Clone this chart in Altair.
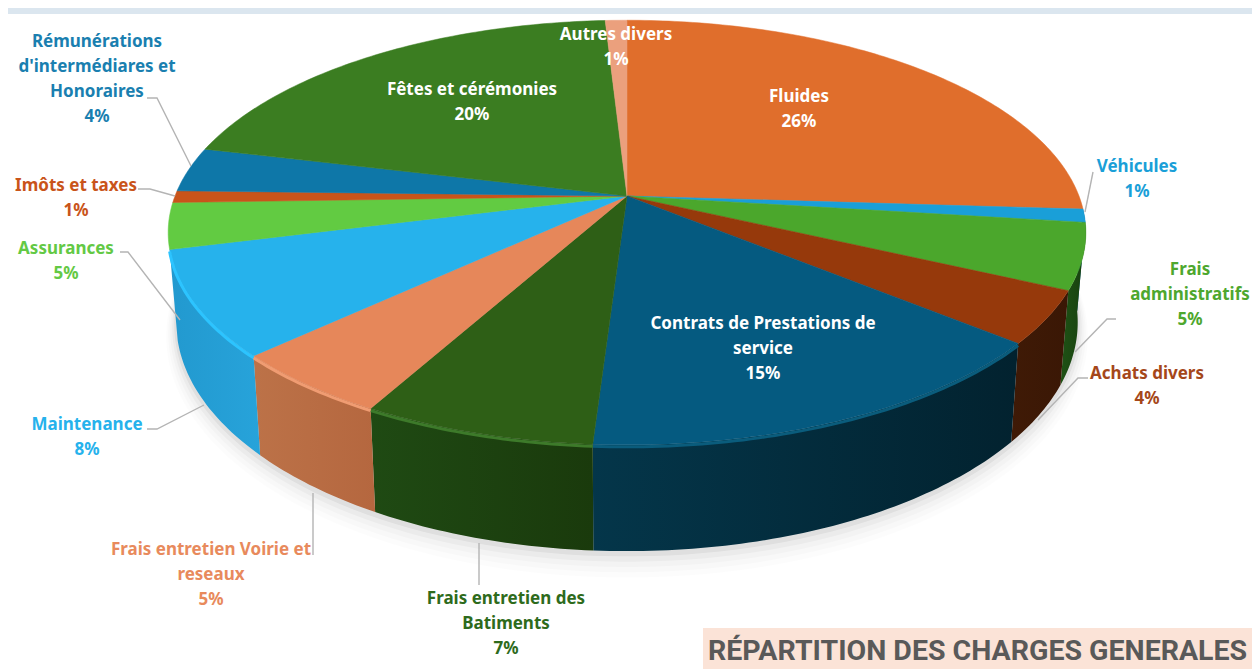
import numpy as np
import pandas as pd
import altair as alt

# ---- data ----
names = ["Fluides", "Véhicules", "Frais administratifs", "Achats divers",
         "Contrats de Prestations de service", "Frais entretien des Batiments",
         "Frais entretien Voirie et reseaux", "Maintenance", "Assurances",
         "Imôts et taxes", "Rémunérations d'intermédiares et Honoraires",
         "Fêtes et cérémonies", "Autres divers"]
shares = [26, 1, 5, 4, 15, 7, 5, 8, 3.5, 0.9, 3.4, 20.3, 0.9]
pct_labels = ["26%", "1%", "5%", "4%", "15%", "7%", "5%", "8%", "5%", "1%", "4%", "20%", "1%"]
title_text = "RÉPARTITION DES CHARGES GENERALES"

# ---- style ----
top_colors = ["#e06e2c", "#1a9fd8", "#4ba72c", "#96390b", "#055a80", "#2e5f16", "#e6875a",
              "#26b2ec", "#62cb42", "#c9541a", "#0e77a8", "#3b7d21", "#eba07d"]
label_colors = ["#ffffff", "#1a9fd8", "#4ea72e", "#a5471a", "#ffffff", "#2e6b1c", "#e88a5c",
                "#26b2ec", "#63c945", "#c9541a", "#1a7fb0", "#ffffff", "#ffffff"]
wall_fill = {
    1: ("#0d5f80", "#0d5f80"), 2: ("#1f5215", "#17400f"), 3: ("#3f1a06", "#3a1705"),
    4: ("#04364a", "#02222f"), 5: ("#1f4a13", "#1a3a0c"), 6: ("#bc7248", "#b5673f"),
    7: ("#2299cf", "#27a3da"),
}
rim_colors = {4: "#0a5c7c", 5: "#3d7a2a", 6: "#f09c72", 7: "#2cc4ff"}
label_lines = [
    (["Fluides", "26%"], 799, 96),
    (["Véhicules", "1%"], 1137, 166),
    (["Frais", "administratifs", "5%"], 1190, 269),
    (["Achats divers", "4%"], 1147, 373),
    (["Contrats de Prestations de", "service", "15%"], 763, 323),
    (["Frais entretien des", "Batiments", "7%"], 506, 598),
    (["Frais entretien Voirie et", "reseaux", "5%"], 211, 549),
    (["Maintenance", "8%"], 87, 424),
    (["Assurances", "5%"], 66, 248),
    (["Imôts et taxes", "1%"], 76, 185),
    (["Rémunérations", "d'intermédiares et", "Honoraires", "4%"], 97, 41),
    (["Fêtes et cérémonies", "20%"], 472, 89),
    (["Autres divers", "1%"], 616, 34),
]
leaders = [
    [(1093, 172), (1085, 212)],
    [(1116, 319), (1107, 319), (1075, 352)],
    [(1088, 378), (1078, 378), (1038, 420)],
    [(479, 543), (479, 585)],
    [(313, 493), (313, 555)],
    [(147, 429), (157, 429), (204, 405)],
    [(120, 252), (128, 252), (180, 320)],
    [(138, 189), (150, 189), (175, 196)],
    [(147, 98), (157, 98), (191, 166)],
]
CX, CY_TOP, SX_TOP, SY_TOP, K = 627, 196, 452, 206, 0.172
CY_BOT, SX_BOT, SY_BOT = 283, 444, 222
LABEL_DY = 1

X = alt.X("x:Q", scale=alt.Scale(domain=[8, 1252], nice=False, zero=False), axis=None)
Y = alt.Y("y:Q", scale=alt.Scale(domain=[669, 8], nice=False, zero=False), axis=None)


def arc(a0, a1, cy, sx, sy, n=None):
    n = n or max(3, int(abs(a1 - a0) * 4) + 2)
    ang = np.linspace(a0, a1, n) / 100 * 2 * np.pi
    px, py = np.sin(ang), -np.cos(ang)
    den = 1 - K * py
    return CX + sx * px / den, cy + sy * py / den


def poly(xs, ys, **mark):
    df = pd.DataFrame({"x": xs, "y": ys, "i": np.arange(len(xs))})
    return alt.Chart(df).mark_line(clip=True, **mark).encode(x=X, y=Y, order="i:Q")


def rect(x0, x1, y0, y1, color):
    return poly([x0, x1, x1, x0, x0], [y0, y0, y1, y1, y0], fill=color, strokeWidth=0)


layers = [rect(8, 1252, 8, 14, "#dbe6ef")]

# soft shadow below the pie
for r, op in [(20, 0.012), (16, 0.016), (12, 0.02), (8, 0.03), (4, 0.05)]:
    xs, ys = arc(0, 100, CY_BOT + r * 0.6, SX_BOT + r * 0.5, SY_BOT + r * 0.6, n=200)
    layers.append(poly(xs, ys, fill="#000000", fillOpacity=op, strokeWidth=0))

# side walls
cum = np.concatenate([[0], np.cumsum(shares)])
for i, (c0, c1) in wall_fill.items():
    a0, a1 = cum[i], cum[i + 1]
    xt, yt = arc(a0, a1, CY_TOP, SX_TOP, SY_TOP)
    xb, yb = arc(a1, a0, CY_BOT, SX_BOT, SY_BOT)
    grad = alt.Gradient(gradient="linear", x1=0, x2=1, y1=0, y2=0,
                        stops=[alt.GradientStop(color=c0, offset=0),
                               alt.GradientStop(color=c1, offset=1)])
    layers.append(poly(np.r_[xt, xb, xt[0]], np.r_[yt, yb, yt[0]],
                       fill=grad, strokeWidth=0))

# top faces
for i, col in enumerate(top_colors):
    xs, ys = arc(cum[i], cum[i + 1], CY_TOP, SX_TOP, SY_TOP)
    layers.append(poly(np.r_[CX, xs, CX], np.r_[CY_TOP, ys, CY_TOP],
                       fill=col, stroke=col, strokeWidth=0.5))

# bevel on the front rim
for i, col in rim_colors.items():
    xs, ys = arc(cum[i], cum[i + 1], CY_TOP, SX_TOP, SY_TOP)
    layers.append(poly(xs, ys + 2, stroke=col, strokeWidth=3))

# leader lines
for pts in leaders:
    layers.append(poly([p[0] for p in pts], [p[1] for p in pts],
                       stroke="#b4b4b4", strokeWidth=1.4))

# slice labels
rows = []
for (lines, x, y0), col in zip(label_lines, label_colors):
    for j, line in enumerate(lines):
        rows.append({"x": x, "y": y0 + 25 * j + LABEL_DY, "t": line, "c": col})
layers.append(
    alt.Chart(pd.DataFrame(rows))
    .mark_text(font="Noto Sans", fontWeight="bold", fontSize=17, baseline="middle", align="center")
    .encode(x=X, y=Y, text="t:N", color=alt.Color("c:N", scale=None))
)

# title block
layers.append(rect(703, 1252, 628, 669, "#fbe3d7"))
layers.append(
    alt.Chart(pd.DataFrame({"x": [708], "y": [651], "t": [title_text]}))
    .mark_text(font="Roboto", fontWeight="bold", fontSize=28.5, baseline="middle", align="left", color="#595959")
    .encode(x=X, y=Y, text="t:N")
)

chart = (
    alt.layer(*layers)
    .properties(width=1244, height=661, padding=0, background="#ffffff",
                autosize=alt.AutoSizeParams(type="none"))
    .configure_view(stroke=None)
)
chart.save("out.html", embed_options={"renderer": "svg", "actions": False})
